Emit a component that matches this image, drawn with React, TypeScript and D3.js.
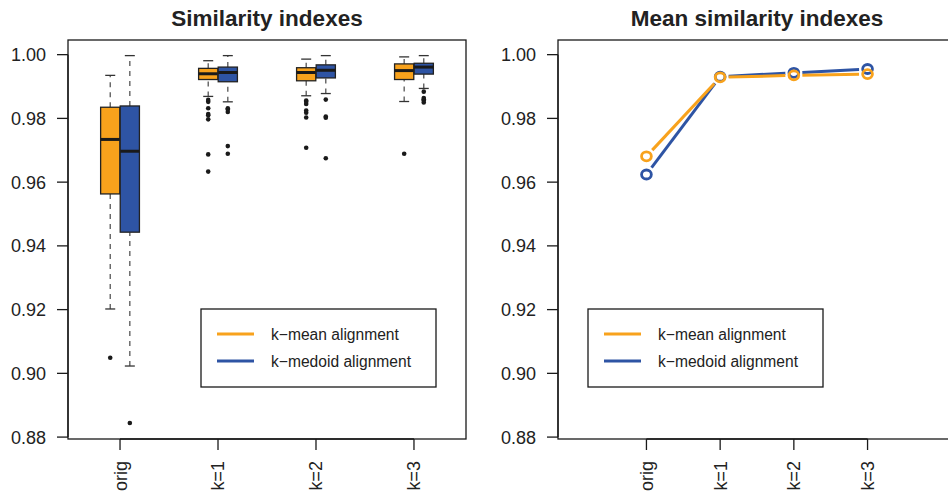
import React from "react";
import * as d3 from "d3";

const categories = ["orig", "k=1", "k=2", "k=3"];
const seriesNames = ["k\u2212mean alignment", "k\u2212medoid alignment"];
const seriesColors = ["#F8A21C", "#2E54A4"];

// [lower whisker, Q1, median, Q3, upper whisker]
const meanStats = [
  [0.9202, 0.9563, 0.9734, 0.9835, 0.9935],
  [0.9869, 0.9922, 0.994, 0.9957, 0.9981],
  [0.9871, 0.9918, 0.9944, 0.9959, 0.9986],
  [0.9853, 0.9922, 0.995, 0.9971, 0.9993],
];
const medoidStats = [
  [0.9023, 0.9443, 0.9697, 0.9839, 0.9997],
  [0.9852, 0.9915, 0.9944, 0.9961, 0.9997],
  [0.9878, 0.9927, 0.9951, 0.9968, 0.9997],
  [0.9894, 0.9939, 0.9961, 0.9973, 0.9997],
];
const meanOutliers = [
  [0.9049],
  [0.9858, 0.9852, 0.9832, 0.9814, 0.981, 0.9797, 0.9687, 0.9633],
  [0.9856, 0.9852, 0.9845, 0.9825, 0.9818, 0.9803, 0.9708],
  [0.9689],
];
const medoidOutliers = [
  [0.8844],
  [0.9832, 0.9828, 0.982, 0.9713, 0.9689],
  [0.9859, 0.9806, 0.9802, 0.9675],
  [0.9884, 0.9864, 0.986, 0.9856, 0.985],
];
const meanAvg = [0.9681, 0.9929, 0.9935, 0.9939];
const medoidAvg = [0.9624, 0.9931, 0.9943, 0.9955];
const yTicks = [0.88, 0.9, 0.92, 0.94, 0.96, 0.98, 1.0];

const FONT = "'Liberation Sans', Arial, Helvetica, sans-serif";
const TOP = 40;
const BOTTOM = 439;
const FRAME = "#1a1a1a";

const y = d3.scaleLinear().domain([0.8794, 1.0046]).range([BOTTOM, TOP]);

function YAxis({ x0 }: { x0: number }) {
  return (
    <g>
      <line x1={x0} x2={x0} y1={y(0.88)} y2={y(1.0)} stroke={FRAME} strokeWidth={1.3} />
      {yTicks.map((t) => (
        <g key={t}>
          <line x1={x0 - 11} x2={x0} y1={y(t)} y2={y(t)} stroke={FRAME} strokeWidth={1.3} />
          <text x={x0 - 22} y={y(t)} dy="0.36em" textAnchor="end" fontSize={18} fill="#222" fontFamily={FONT}>
            {d3.format(".2f")(t)}
          </text>
        </g>
      ))}
    </g>
  );
}

function XAxis({ sx }: { sx: d3.ScaleLinear<number, number> }) {
  return (
    <g>
      <line x1={sx(1)} x2={sx(4)} y1={BOTTOM} y2={BOTTOM} stroke={FRAME} strokeWidth={1.3} />
      {categories.map((c, i) => (
        <g key={c}>
          <line x1={sx(i + 1)} x2={sx(i + 1)} y1={BOTTOM} y2={BOTTOM + 11} stroke={FRAME} strokeWidth={1.3} />
          <text
            transform={`translate(${sx(i + 1)},${BOTTOM + 22}) rotate(-90)`}
            dy="0.36em"
            textAnchor="end"
            fontSize={18}
            fill="#222"
            fontFamily={FONT}
          >
            {c}
          </text>
        </g>
      ))}
    </g>
  );
}

function Legend({ x, w }: { x: number; w: number }) {
  return (
    <g>
      <rect x={x} y={309} width={w} height={78} fill="white" stroke={FRAME} strokeWidth={1.3} />
      {seriesNames.map((s, i) => (
        <g key={s}>
          <line x1={x + 16} x2={x + 53} y1={334 + i * 27} y2={334 + i * 27} stroke={seriesColors[i]} strokeWidth={3} />
          <text x={x + 70} y={334 + i * 27} dy="0.36em" fontSize={15.6} fill="#222" fontFamily={FONT}>
            {s}
          </text>
        </g>
      ))}
    </g>
  );
}

function BoxPlot() {
  const L = 68, R = 466;
  const sx = d3.scaleLinear().domain([0.469, 4.531]).range([L, R]);
  const groups = [meanStats, medoidStats];
  const outs = [meanOutliers, medoidOutliers];
  const off = [-0.1, 0.1];
  const hw = 0.098;
  return (
    <g>
      <text x={(L + R) / 2} y={26} textAnchor="middle" fontSize={22.5} fontWeight="bold" fill="#222" fontFamily={FONT}>
        Similarity indexes
      </text>
      {groups.map((stats, s) =>
        stats.map((st, i) => {
          const cx = sx(i + 1 + off[s]);
          const x0 = sx(i + 1 + off[s] - hw);
          const x1 = sx(i + 1 + off[s] + hw);
          const cw = 5;
          return (
            <g key={`${s}-${i}`}>
              <line x1={cx} x2={cx} y1={y(st[0])} y2={y(st[1])} stroke="#555" strokeWidth={1.3} strokeDasharray="5,5" />
              <line x1={cx} x2={cx} y1={y(st[3])} y2={y(st[4])} stroke="#555" strokeWidth={1.3} strokeDasharray="5,5" />
              <line x1={cx - cw} x2={cx + cw} y1={y(st[0])} y2={y(st[0])} stroke="#333" strokeWidth={1.3} />
              <line x1={cx - cw} x2={cx + cw} y1={y(st[4])} y2={y(st[4])} stroke="#333" strokeWidth={1.3} />
              <rect x={x0} y={y(st[3])} width={x1 - x0} height={y(st[1]) - y(st[3])} fill={seriesColors[s]} stroke="#222" strokeWidth={1.3} />
              <line x1={x0} x2={x1} y1={y(st[2])} y2={y(st[2])} stroke="#1a1a1a" strokeWidth={3} />
              {outs[s][i].map((o, k) => (
                <circle key={k} cx={cx} cy={y(o)} r={2.3} fill="#1a1a1a" />
              ))}
            </g>
          );
        })
      )}
      <rect x={L} y={TOP} width={R - L} height={BOTTOM - TOP} fill="none" stroke={FRAME} strokeWidth={1.3} />
      <YAxis x0={L} />
      <XAxis sx={sx} />
      <Legend x={201} w={235} />
    </g>
  );
}

function MeanPlot() {
  const L = 558, R = 956;
  const sx = d3.scaleLinear().domain([-0.2, 5.2]).range([L, R]);
  const series = [medoidAvg, meanAvg];
  const cols = [seriesColors[1], seriesColors[0]];
  const gap = 8.5;
  return (
    <g>
      <text x={(L + R) / 2} y={26} textAnchor="middle" fontSize={22.5} fontWeight="bold" fill="#222" fontFamily={FONT}>
        Mean similarity indexes
      </text>
      {series.map((vals, s) => {
        const pts = vals.map((v, i) => [sx(i + 1), y(v)] as [number, number]);
        return (
          <g key={s}>
            {pts.slice(1).map((p, i) => {
              const a = pts[i];
              const dx = p[0] - a[0], dy = p[1] - a[1];
              const len = Math.hypot(dx, dy);
              const ux = dx / len, uy = dy / len;
              return (
                <line
                  key={i}
                  x1={a[0] + ux * gap}
                  y1={a[1] + uy * gap}
                  x2={p[0] - ux * gap}
                  y2={p[1] - uy * gap}
                  stroke={cols[s]}
                  strokeWidth={3}
                />
              );
            })}
            {pts.map((p, i) => (
              <ellipse key={i} cx={p[0]} cy={p[1]} rx={4.9} ry={4.5} fill="none" stroke={cols[s]} strokeWidth={2.8} />
            ))}
          </g>
        );
      })}
      <rect x={L} y={TOP} width={R - L} height={BOTTOM - TOP} fill="none" stroke={FRAME} strokeWidth={1.3} />
      <YAxis x0={L} />
      <XAxis sx={sx} />
      <Legend x={588} w={235} />
    </g>
  );
}

export default function App() {
  return (
    <svg width={948} height={491} style={{ position: "absolute", left: 0, top: 0, background: "white" }}>
      <rect width={948} height={491} fill="white" />
      <BoxPlot />
      <MeanPlot />
    </svg>
  );
}
